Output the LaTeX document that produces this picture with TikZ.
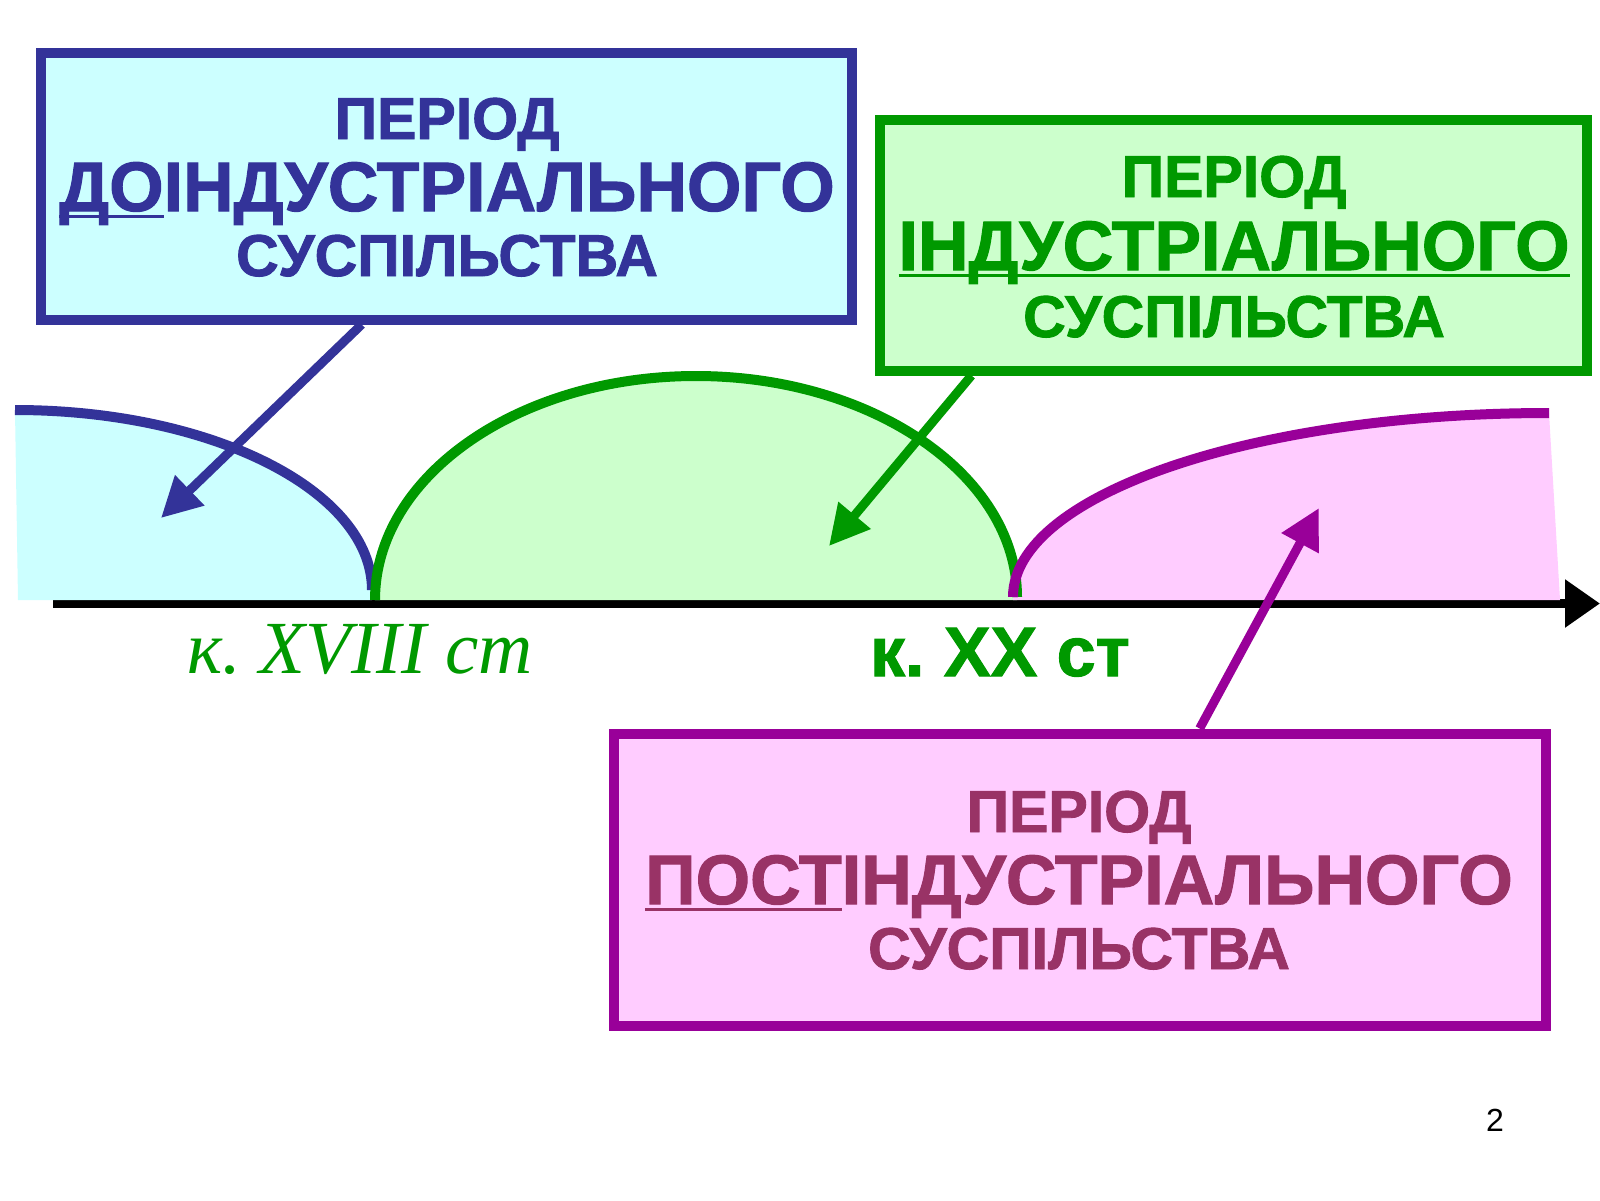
\documentclass[tikz,border=0pt]{standalone}
\usepackage{fontspec}
\setmainfont{Liberation Sans}[BoldFeatures={FakeBold=1.5}]
\newfontfamily\itserif{Liberation Serif}
\usetikzlibrary{arrows.meta,calc}
\definecolor{bluebd}{HTML}{333399}
\definecolor{bluefl}{HTML}{CCFFFF}
\definecolor{grnbd}{HTML}{009900}
\definecolor{grnfl}{HTML}{CCFFCC}
\definecolor{magbd}{HTML}{990099}
\definecolor{magfl}{HTML}{FFCCFF}
\definecolor{magtx}{HTML}{993366}
\newcommand\myul[1]{\setbox0\hbox{#1}\rlap{\rule[-0.095em]{\wd0}{0.04em}}\box0}
\tikzset{
  box/.style={draw, line width=10pt, rectangle, inner sep=0pt},
  lineA/.style={font=\bfseries\fontsize{59}{59}\selectfont, anchor=base, inner sep=0pt},
  lineB/.style={font=\bfseries\fontsize{70}{70}\selectfont, anchor=base, inner sep=0pt},
  curve/.style={line width=10pt},
  callout/.style={line width=9pt, -{Triangle[length=40pt,width=40pt]}},
  axisline/.style={line width=9pt, -{Triangle[length=35pt,width=46pt]}}
}
\begin{document}
\begin{tikzpicture}[x=1pt,y=-1pt]
\useasboundingbox (0,0) rectangle (1600,1200);
\fill[white] (0,0) rectangle (1600,1200);
% axis
\coordinate (axL) at (53,603.5);
\coordinate (axR) at (1600,603.5);
\draw[axisline] (axL) -- (axR);
% regions
\fill[bluefl] (15,410) .. controls (212,410) and (372,491) .. (372,590) -- (372,600) -- (18,600) -- cycle;
\fill[grnfl] (375,600) .. controls (375,476) and (519,376) .. (696,376) .. controls (873,376) and (1017,476) .. (1017,600) -- cycle;
\fill[magfl] (1013,597) .. controls (1013,495) and (1253,413) .. (1549,413) -- (1560,600) -- (1013,600) -- cycle;
\draw[bluebd, curve] (15,410) .. controls (212,410) and (372,491) .. (372,590);
\draw[grnbd, curve] (375,600) .. controls (375,476) and (519,376) .. (696,376) .. controls (873,376) and (1017,476) .. (1017,597);
\draw[magbd, curve] (1013,597) .. controls (1013,495) and (1253,413) .. (1549,413);
% boxes
\node[box, draw=bluebd, fill=bluefl, minimum width=811.5pt, minimum height=266.5pt] (bbox) at (446.25,186.25) {};
\node[box, draw=grnbd, fill=grnfl, minimum width=707pt, minimum height=250.5pt] (gbox) at (1233.5,245.25) {};
\node[box, draw=magbd, fill=magfl, minimum width=932pt, minimum height=292pt] (mbox) at (1080,879.5) {};
% box texts
\node[lineA, text=bluebd] (b1) at (447,139) {ПЕРІОД};
\node[lineB, text=bluebd] (b2) at (447,211) {\myul{ДО}ІНДУСТРІАЛЬНОГО};
\node[lineA, text=bluebd] (b3) at (447,276) {СУСПІЛЬСТВА};
\node[lineA, text=grnbd] (g1) at (1234,197) {ПЕРІОД};
\node[lineB, text=grnbd] (g2) at (1234,270) {\myul{ІНДУСТРІАЛЬНОГО}};
\node[lineA, text=grnbd] (g3) at (1234,337) {СУСПІЛЬСТВА};
\node[lineA, text=magtx] (m1) at (1079,832) {ПЕРІОД};
\node[lineB, text=magtx] (m2) at (1079,904) {\myul{ПОСТ}ІНДУСТРІАЛЬНОГО};
\node[lineA, text=magtx] (m3) at (1079,969) {СУСПІЛЬСТВА};
% targets
\coordinate (bT) at (161,518);
\coordinate (gT) at (829,546);
\coordinate (mT) at (1319,508);
\draw[callout, bluebd] ($(bbox.south west)!0.397!(bbox.south east)$) -- (bT);
\draw[callout, grnbd] ($(gbox.south west)!0.1345!(gbox.south east)$) -- (gT);
\draw[callout, magbd] ($(mbox.north west)!0.627!(mbox.north east)$) -- (mT);
% labels
\node[anchor=base, inner sep=0pt, text=grnbd, font=\itserif\itshape\fontsize{75}{75}\selectfont] (l18) at (360,673) {к.\ XVIII ст};
\node[anchor=base, inner sep=0pt, text=grnbd, font=\bfseries\fontsize{70}{70}\selectfont] (l20) at (1000,676) {к.\ XX ст};
\node[anchor=base, inner sep=0pt, font=\fontsize{32}{32}\selectfont] (pg) at (1495,1131) {2};
\end{tikzpicture}
\end{document}
